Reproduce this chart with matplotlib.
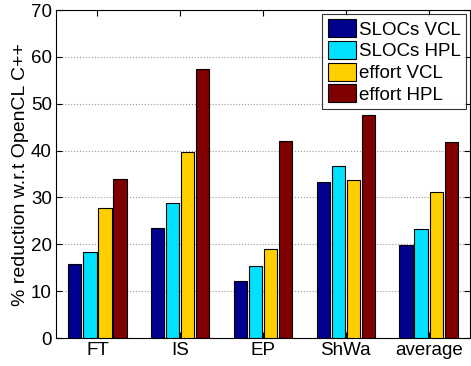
import numpy as np
import matplotlib
matplotlib.use("Agg")
import matplotlib.pyplot as plt

plt.rcParams['font.family'] = ['Liberation Sans', 'DejaVu Sans']

benchmarks = ["FT", "IS", "EP", "ShWa", "average"]
series = ["SLOCs VCL", "SLOCs HPL", "effort VCL", "effort HPL"]
slocs_vcl = [15.8, 23.4, 12.2, 33.4, 19.9]
slocs_hpl = [18.3, 28.8, 15.4, 36.7, 23.3]
effort_vcl = [27.7, 39.8, 19.1, 33.8, 31.1]
effort_hpl = [33.9, 57.5, 42.0, 47.7, 41.8]
colors = ["#00008F", "#00E0FF", "#FFCF00", "#800000"]

fig = plt.figure(figsize=(4.71, 3.66), dpi=100)
ax = fig.add_axes([0.119, 0.0765, 0.879, 0.896])

x = np.arange(1, len(benchmarks) + 1)
w = 0.16
step = 0.182
for i, vals in enumerate([slocs_vcl, slocs_hpl, effort_vcl, effort_hpl]):
    ax.bar(x + (i - 1.5) * step, vals, w, color=colors[i], edgecolor="black",
           linewidth=0.8, label=series[i], zorder=3)

ax.set_xlim(0.5, 5.5)
ax.set_ylim(0, 70)
ax.set_xticks(x)
ax.set_xticklabels(benchmarks)
ax.set_yticks(np.arange(0, 71, 10))
ax.yaxis.grid(True, linestyle=":", color="#999999", linewidth=0.8, zorder=0)
ax.tick_params(direction="in", top=True, right=True, labelsize=13.5, length=4, pad=3)
ax.set_ylabel("% reduction w.r.t OpenCL C++", fontsize=14, labelpad=1)

leg = ax.legend(loc="upper right", fontsize=13.5, frameon=True, fancybox=False,
                edgecolor="black", borderaxespad=0.2, handlelength=1.5,
                handleheight=1.1, handletextpad=0.15, labelspacing=0.12,
                borderpad=0.3)
leg.get_frame().set_linewidth(0.8)

fig.savefig("out.png", dpi=100)
